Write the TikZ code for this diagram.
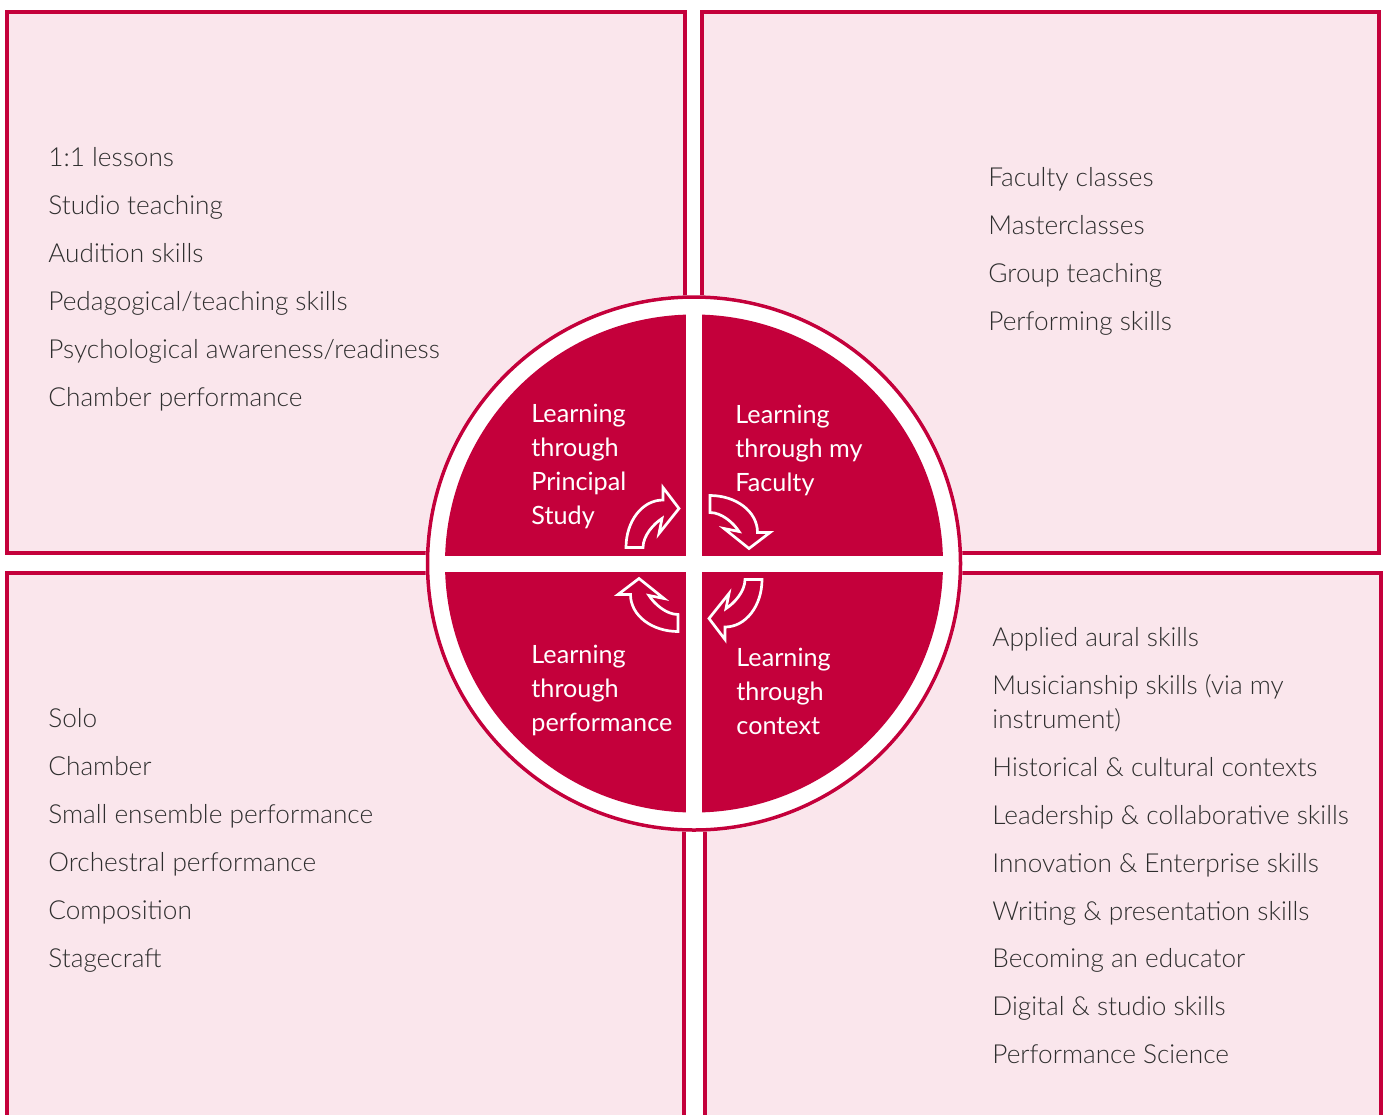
\documentclass[tikz,border=0pt]{standalone}
\usepackage{fontspec}
\setmainfont{Lato}
\IfFontExistsTF{Lato Light}{\newfontfamily\listfont{Lato Light}}{\newfontfamily\listfont{Lato}}
\definecolor{rcmred}{HTML}{C4003B}
\definecolor{rcmpink}{HTML}{FAE6EC}
\definecolor{rcmtext}{HTML}{2E2E2E}
\tikzset{
  panel/.style={draw=rcmred, fill=rcmpink, line width=2pt},
  item/.style={anchor=base west, inner sep=0pt, text=rcmtext, font=\listfont\fontsize{13.1}{16}\selectfont},
  quad/.style={anchor=base west, inner sep=0pt, text=white, align=left, font=\fontsize{12.6}{17}\selectfont},
  turn/.style={draw=white, line width=1.35pt, line join=miter},
}
\begin{document}
\begin{tikzpicture}[x=0.5pt, y=-0.5pt]
                        \useasboundingbox (0,0) rectangle (1387,1114);
                        \clip (0,0) rectangle (1387,1114);
                        % four panels
                        \draw[panel] (7,12) rectangle (684.5,552.5);
                        \draw[panel] (702,12) rectangle (1379,552.5);
                        \draw[panel] (7,573) rectangle (683.5,1130);
                        \draw[panel] (705,573) rectangle (1381,1130);

                        % list texts
                        \foreach \txt [count=\i from 0] in {1:1 lessons, Studio teaching, Audition skills,
                            Pedagogical/teaching skills, Psychological awareness/readiness, Chamber performance}
                            \node[item] (tl\i) at (48, 166+48*\i) {\txt};
                        \foreach \txt [count=\i from 0] in {Faculty classes, Masterclasses, Group teaching, Performing skills}
                            \node[item] (tr\i) at (988, 186+48*\i) {\txt};
                        \foreach \txt [count=\i from 0] in {Solo, Chamber, Small ensemble performance,
                            Orchestral performance, Composition, Stagecraft}
                            \node[item] (bl\i) at (48, 727+48*\i) {\txt};
                        \foreach \y/\txt [count=\i from 0] in {646/Applied aural skills, 694/Musicianship skills (via my,
                            728/instrument), 776/Historical \& cultural contexts, 824/Leadership \& collaborative skills,
                            872/Innovation \& Enterprise skills, 920/Writing \& presentation skills,
                            967/Becoming an educator, 1015/Digital \& studio skills, 1063/Performance Science}
                            \node[item] (br\i) at (992, \y) {\txt};

                        % the circle
                        \coordinate (ctr) at (694,563.5);
                        \fill[white] (ctr) circle (268.5);
                        \draw[rcmred, line width=1.75pt] (ctr) circle (266.5);
                        \fill[rcmred] (ctr) circle (249);
                        \fill[white] (686,313) rectangle (702,814);
                        \fill[white] (444,556) rectangle (944,571.5);

                        % base is the last line
                        \node[quad] (ps) at (531,524) {Learning\\through\\Principal\\Study};
                        \node[quad] (fac) at (735,491) {Learning\\through my\\Faculty};
                        \node[quad] (perf) at (531,731) {Learning\\through\\performance};
                        \node[quad] (ctx) at (736,734) {Learning\\through\\context};

                        % turning arrows
                        \foreach \ang in {0,-90,-180,-270}
                            \draw[turn, shift={(ctr)}, rotate=\ang] (-68,-16) .. controls (-68,-42) and (-52,-63.5) .. (-31,-63.5)
                                -- (-31,-76) -- (-15,-55) -- (-35,-30) -- (-32,-45)
                                .. controls (-40,-40) and (-51,-28) .. (-51,-16) -- cycle;
                    \end{tikzpicture}
\end{document}
